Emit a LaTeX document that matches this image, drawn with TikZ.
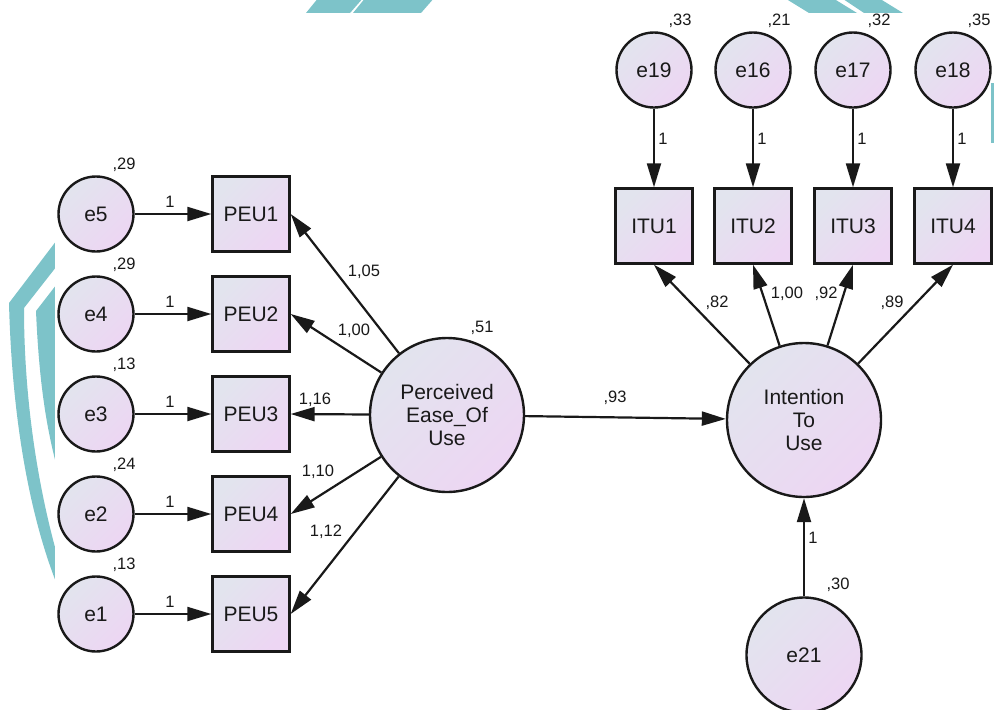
\documentclass[tikz,border=0pt]{standalone}
\usepackage{fontspec}
\setmainfont{Liberation Sans}
\usetikzlibrary{arrows.meta}
\definecolor{fillA}{RGB}{226,228,238}
\definecolor{fillB}{RGB}{237,214,243}
\definecolor{ink}{RGB}{25,25,25}
\definecolor{teal}{RGB}{125,195,201}
\tikzset{
  shadedfill/.style={draw=ink, line width=2.4pt, shade, top color=fillA, bottom color=fillB, shading angle=45, text=ink, inner sep=0pt},
  evar/.style={shadedfill, circle, minimum size=75pt, font=\fontsize{21}{23}\selectfont},
  bigvar/.style={shadedfill, circle, minimum size=115pt, font=\fontsize{21}{23}\selectfont},
  latent/.style={shadedfill, circle, minimum size=154pt, align=center, font=\fontsize{21}{23}\selectfont},
  obsbox/.style={shadedfill, rectangle, minimum width=77pt, minimum height=75pt, font=\fontsize{21}{23}\selectfont},
  arr/.style={draw=ink, line width=2.2pt, -{Triangle[length=24pt,width=14pt]}},
  lbl/.style={text=ink, inner sep=0pt, font=\fontsize{16.5}{18}\selectfont},
}
\begin{document}
\begin{tikzpicture}[x=1pt,y=-1pt]
\useasboundingbox (0,0) rectangle (994,710);
% background watermark
\fill[teal] (60,236) -- (9,303) .. controls (12,420) and (30,520) .. (60,592) -- (60,565) .. controls (38,490) and (24,400) .. (24,308) -- (60,262) -- cycle;
\fill[teal] (60,280) -- (36,311) .. controls (39,380) and (46,430) .. (60,478) -- cycle;
\fill[teal] (306,13) -- (350,13) -- (364,-3) -- (319,-3) -- cycle;
\fill[teal] (353,13) -- (421,13) -- (435,-3) -- (366,-3) -- cycle;
\fill[teal] (809,13) -- (857,13) -- (831,-3) -- (783,-3) -- cycle;
\fill[teal] (864,13) -- (903,13) -- (877,-3) -- (840,-3) -- cycle;
\fill[teal] (991,83) rectangle (995,143);
\fill[white] (55,13) rectangle (991,712);
% left error terms and indicators
\foreach \i/\e/\v/\y in {1/e5/{,29}/214, 2/e4/{,29}/314, 3/e3/{,13}/414, 4/e2/{,24}/514, 5/e1/{,13}/614}{
  \node[evar] (\e) at (96,\y) {\e};
  \node[obsbox] (peu\i) at (251,\y) {PEU\i};
  \node[lbl] (v\e) at (124,\y-49) {\v};
  \draw[arr] (\e) -- (peu\i);
  \node[lbl] (one\e) at (170,\y-12) {1};
}
\node[latent] (peu) at (447,415) {Perceived\\Ease\_Of\\Use};
\node[lbl] (vpeu) at (482,328) {,51};
\foreach \i in {1,...,5}{ \draw[arr] (peu) -- (peu\i.east); }
\node[lbl] (l1) at (364,272) {1,05};
\node[lbl] (l2) at (354,331) {1,00};
\node[lbl] (l3) at (315,400) {1,16};
\node[lbl] (l4) at (318,472) {1,10};
\node[lbl] (l5) at (326,532) {1,12};
% right side
\node[latent] (itu) at (804,420) {Intention\\To\\Use};
\draw[arr] (peu) -- (itu);
\node[lbl] (g93) at (615,398) {,93};
\foreach \i/\e/\v/\x in {1/e19/{,33}/654, 2/e16/{,21}/753, 3/e17/{,32}/853, 4/e18/{,35}/953}{
  \node[evar] (\e) at (\x,70) {\e};
  \node[obsbox] (itu\i) at (\x,226) {ITU\i};
  \node[lbl] (v\e) at (\x+26,21) {\v};
  \draw[arr] (\e) -- (itu\i);
  \node[lbl] (one\e) at (\x+9,139) {1};
  \draw[arr] (itu) -- (itu\i.south);
}
\node[lbl] (m1) at (717,303) {,82};
\node[lbl] (m2) at (787,294) {1,00};
\node[lbl] (m3) at (826,294) {,92};
\node[lbl] (m4) at (892,303) {,89};
\node[bigvar] (e21) at (804,655) {e21};
\draw[arr] (e21) -- (itu);
\node[lbl] (one21) at (813,538) {1};
\node[lbl] (v21) at (838,585) {,30};
\end{tikzpicture}
\end{document}
